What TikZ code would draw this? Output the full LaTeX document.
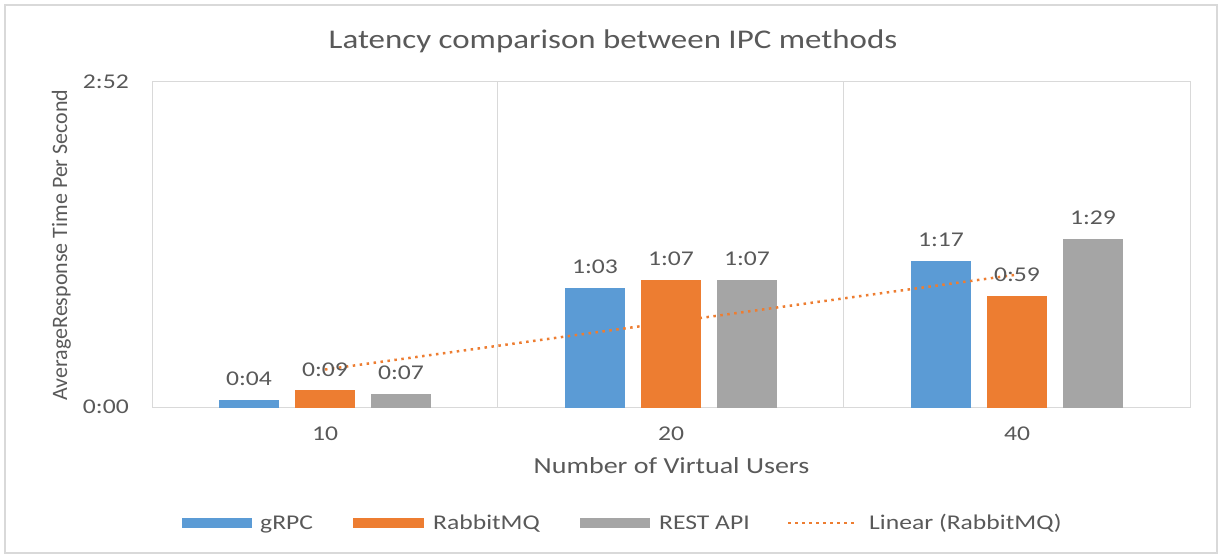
\documentclass[tikz,border=0pt]{standalone}
\usepackage{fontspec}
\setmainfont{Carlito}[FakeStretch=1.22]
\newfontfamily\plainfont{Carlito}
\usetikzlibrary{positioning}
\definecolor{grpcblue}{HTML}{5B9BD5}
\definecolor{rabbitorange}{HTML}{ED7D31}
\definecolor{restgray}{HTML}{A5A5A5}
\definecolor{gridgray}{HTML}{D9D9D9}
\definecolor{textgray}{HTML}{595959}

\begin{document}
\begin{tikzpicture}[
  x=1pt,y=-1pt,
  txt/.style={text=textgray,inner sep=0pt},
  vallabel/.style={txt,font=\fontsize{21}{24}\selectfont,above=14pt},
  ticklabel/.style={txt,font=\fontsize{21}{24}\selectfont},
  axtitle/.style={txt,font=\fontsize{23}{26}\selectfont},
  legtext/.style={txt,font=\fontsize{21}{24}\selectfont,anchor=base west},
  trend/.style={rabbitorange,line width=2.5pt,dash pattern=on 2.5pt off 4.5pt}
]
\useasboundingbox (0,0) rectangle (1218,555);
% frame and plot area
\draw[gridgray,line width=1.5pt] (5,5) rectangle (1217,553);
\draw[gridgray,line width=1pt] (152,81) rectangle (1190,407.5);
\draw[gridgray,line width=1pt] (497.7,81) -- (497.7,407.5)
  (843.3,81) -- (843.3,407.5);

\node[txt,font=\fontsize{27}{30}\selectfont,anchor=base] (title) at (613,48)
  {Latency comparison between IPC methods};

% axes
\node[ticklabel,anchor=base east] (ymax) at (129,88) {2:52};
\node[ticklabel,anchor=base east] (ymin) at (129,413) {0:00};
\node[txt,font=\plainfont\fontsize{22}{26}\selectfont,rotate=90,anchor=base] (ytitle)
  at (67,245) {AverageResponse Time Per Second};
\node[axtitle,anchor=base] (xtitle) at (671.5,473) {Number of Virtual Users};

% bars, one group per user count
\foreach \cx/\nu/\g/\r/\s [count=\i] in
  {325/10/4/9/7, 671/20/63/67/67, 1017/40/77/59/89}{
  \fill[grpcblue] (\cx-106,407.5) rectangle (\cx-46,{407.5-\g*1.898});
  \fill[rabbitorange] (\cx-30,407.5) rectangle (\cx+30,{407.5-\r*1.898});
  \fill[restgray] (\cx+46,407.5) rectangle (\cx+106,{407.5-\s*1.898});
  \node[ticklabel,anchor=base] (cat\i) at (\cx,440) {\nu};
}

% trendline
\coordinate (t1) at (325,369.5);
\coordinate (t2) at (1017,274.6);
\draw[trend] (t1) -- (t2);

% value labels
\foreach \cx/\g/\gl/\r/\rl/\s/\sl [count=\i] in
  {325/4/0:04/9/0:09/7/0:07,
   671/63/1:03/67/1:07/67/1:07,
   1017/77/1:17/59/0:59/89/1:29}{
  \node[vallabel] (gv\i) at (\cx-76,{407.5-\g*1.898}) {\gl};
  \node[vallabel] (rv\i) at (\cx,{407.5-\r*1.898}) {\rl};
  \node[vallabel] (sv\i) at (\cx+76,{407.5-\s*1.898}) {\sl};
}

% legend
\fill[grpcblue] (181.7,518) rectangle (251.7,528);
\node[legtext] (lg) at (260,529) {gRPC};
\fill[rabbitorange] (353,518) rectangle (424,528);
\node[legtext] (lr) at (433,529) {RabbitMQ};
\fill[restgray] (580,518) rectangle (650,528);
\node[legtext] (ls) at (659,529) {REST API};
\coordinate (la) at (788,523);
\coordinate (lb) at (857,523);
\draw[trend] (la) -- (lb);
\node[legtext] (lt) at (869,529) {Linear (RabbitMQ)};
\end{tikzpicture}
\end{document}
